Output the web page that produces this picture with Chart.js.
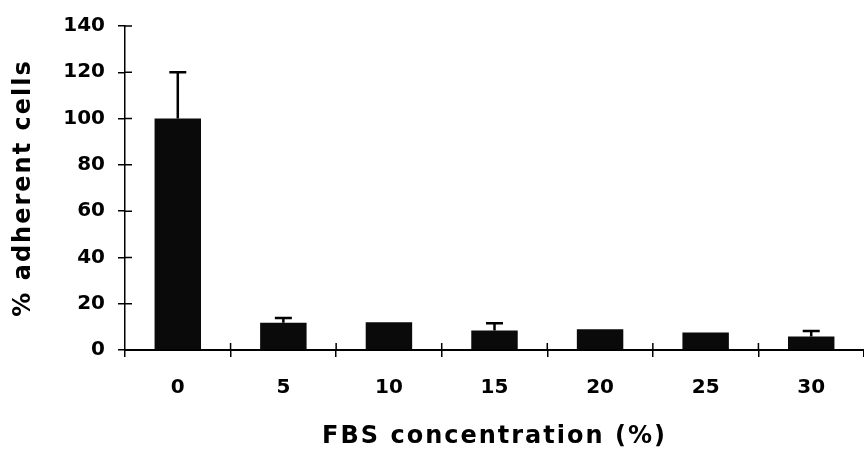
<!DOCTYPE html>
<html>
<head>
<meta charset="utf-8">
<script src="https://cdn.jsdelivr.net/npm/chart.js@4.4.0/dist/chart.umd.min.js"></script>
<style>
  body { margin: 0; background: #fff; }
  #wrap { width: 864px; height: 456px; }
</style>
</head>
<body>
<div id="wrap"><canvas id="fbsChart" width="864" height="456"></canvas></div>
<script>
const categories = ['0', '5', '10', '15', '20', '25', '30'];
const adherent = [100, 11.8, 12, 8.4, 9, 7.6, 5.8];
const errors = [20, 2, 0, 3.2, 0, 0, 2.4];
const yTicks = [0, 20, 40, 60, 80, 100, 120, 140];

const FONT = '"DejaVu Sans", "Liberation Sans", Arial, sans-serif';

// upper error bars, inner half of the crossing tick marks, wide axis titles
const extras = {
    id: 'extras',
    beforeDraw(chart) {
        Object.values(chart.scales).forEach(scale => {
            if (scale._wideTitle) return;
            const orig = scale.drawTitle;
            scale.drawTitle = function () {
                const ctx = this.ctx;
                ctx.save();
                ctx.letterSpacing = '2px';
                orig.apply(this, arguments);
                ctx.restore();
            };
            scale._wideTitle = true;
        });
    },
    afterDatasetsDraw(chart) {
        const ctx = chart.ctx;
        const x = chart.scales.x, y = chart.scales.y;
        const bars = chart.getDatasetMeta(0).data;
        ctx.save();
        ctx.strokeStyle = '#000';
        ctx.lineWidth = 2.5;
        bars.forEach((bar, i) => {
            if (!errors[i]) return;
            const top = y.getPixelForValue(adherent[i] + errors[i]);
            const base = y.getPixelForValue(adherent[i]);
            ctx.beginPath();
            ctx.moveTo(bar.x, base);
            ctx.lineTo(bar.x, top);
            ctx.moveTo(bar.x - 8.5, top);
            ctx.lineTo(bar.x + 8.5, top);
            ctx.stroke();
        });
        ctx.lineWidth = 1.5;
        ctx.beginPath();
        yTicks.forEach(v => {
            const py = y.getPixelForValue(v);
            ctx.moveTo(x.left, py);
            ctx.lineTo(x.left + 7, py);
        });
        for (let i = 1; i < categories.length; i++) {
            const px = (x.getPixelForValue(i - 1) + x.getPixelForValue(i)) / 2;
            ctx.moveTo(px, y.bottom);
            ctx.lineTo(px, y.bottom - 7);
        }
        ctx.stroke();
        ctx.restore();
    }
};

new Chart(document.getElementById('fbsChart').getContext('2d'), {
    type: 'bar',
    data: {
        labels: categories,
        datasets: [{
            data: adherent,
            backgroundColor: '#0a0a0a',
            borderWidth: 0,
            categoryPercentage: 1,
            barPercentage: 0.44
        }]
    },
    options: {
        responsive: false,
        animation: false,
        layout: { padding: { top: 26, right: 0, left: 0, bottom: 0 } },
        plugins: {
            legend: { display: false },
            tooltip: { enabled: false }
        },
        scales: {
            x: {
                grid: {
                    offset: true,
                    drawOnChartArea: false,
                    tickLength: 7,
                    color: '#000',
                    lineWidth: 1.5
                },
                border: { color: '#000', width: 2 },
                ticks: {
                    color: '#000',
                    padding: 19,
                    maxRotation: 0,
                    font: { family: FONT, size: 20, weight: 'bold' }
                },
                title: {
                    display: true,
                    text: 'FBS concentration (%)',
                    color: '#000',
                    padding: { top: 0, bottom: 5 },
                    font: { family: FONT, size: 24, weight: 'bold' }
                },
                afterFit(scale) { scale.height = 106; }
            },
            y: {
                min: 0,
                max: 140,
                grid: {
                    drawOnChartArea: false,
                    tickLength: 7,
                    color: '#000',
                    lineWidth: 1.5
                },
                border: { color: '#000', width: 1.5 },
                ticks: {
                    stepSize: 20,
                    color: '#000',
                    padding: 13,
                    font: { family: FONT, size: 20, weight: 'bold' }
                },
                title: {
                    display: true,
                    text: '% adherent cells',
                    color: '#000',
                    padding: { top: 9, bottom: 0 },
                    font: { family: FONT, size: 24, weight: 'bold' }
                },
                afterFit(scale) { scale.width = 125; }
            }
        }
    },
    plugins: [extras]
});
</script>
</body>
</html>
